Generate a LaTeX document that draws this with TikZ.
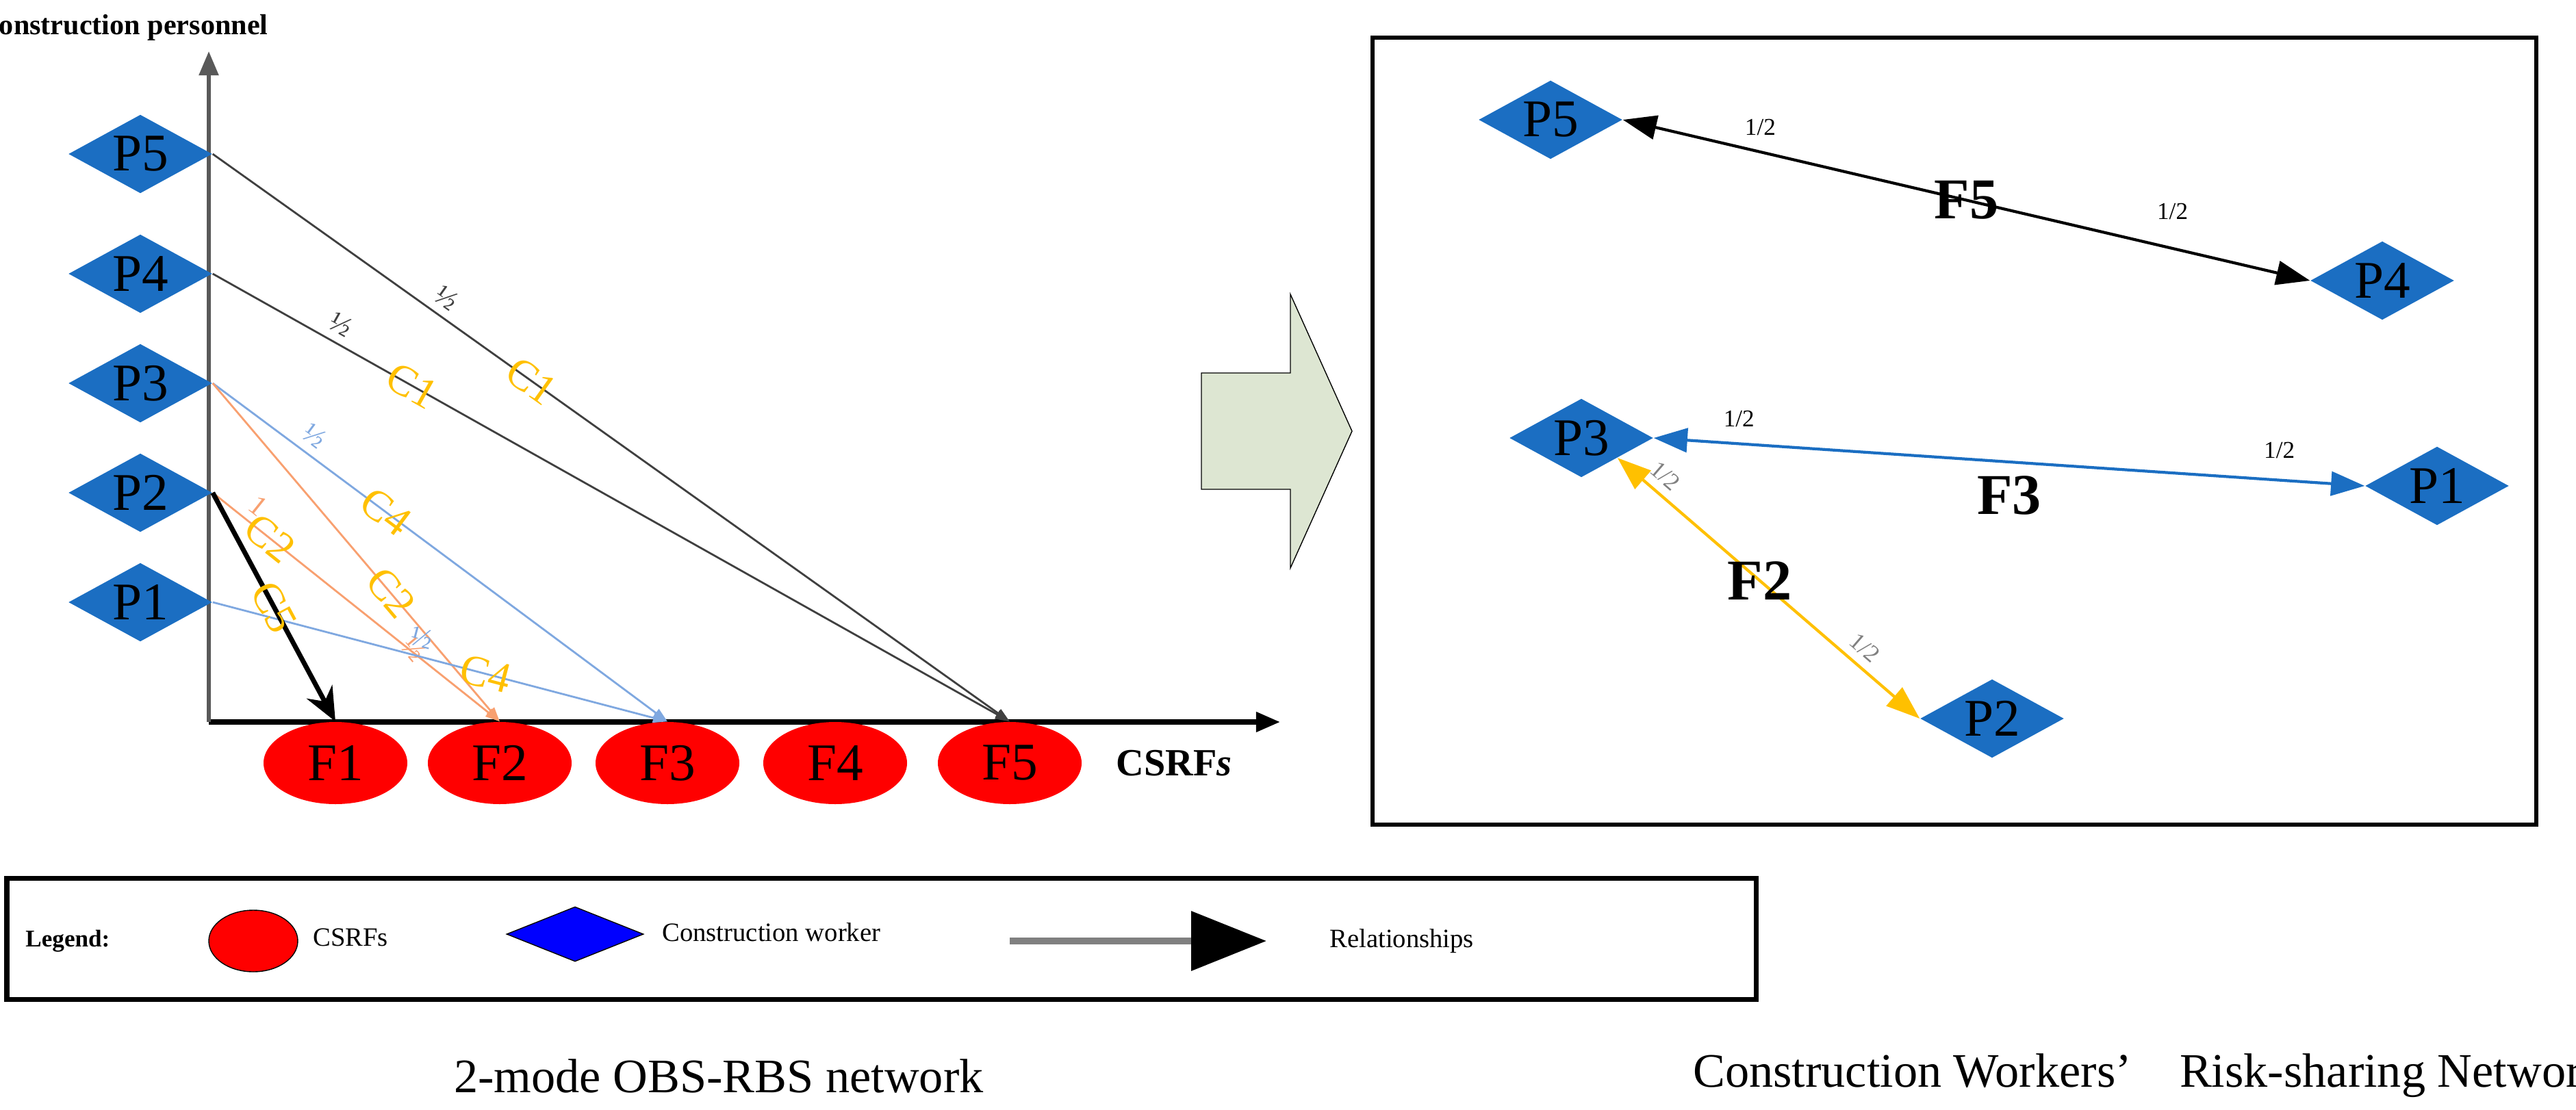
\documentclass[tikz,border=0pt]{standalone}
\usepackage{fontspec}
\setmainfont{Liberation Serif}
\usetikzlibrary{shapes.geometric,arrows.meta}
\definecolor{pblue}{HTML}{1B6EC2}
\definecolor{lblue}{HTML}{7FA8E0}
\definecolor{lorange}{HTML}{F8A070}
\definecolor{cyel}{HTML}{FFC000}
\definecolor{agreen}{HTML}{DDE6D2}
\begin{document}
\begin{tikzpicture}
    [x=1cm,y=-1cm,
    pers/.style = {diamond,aspect=1.8,fill=pblue,minimum width=2.1cm,minimum height=1.15cm,inner sep=0pt,font=\fontsize{22}{24}\selectfont},
    csrf/.style = {ellipse,fill=red,minimum width=2.1cm,minimum height=1.2cm,inner sep=0pt,font=\fontsize{22}{24}\selectfont},
    half/.style = {font=\fontsize{12}{12}\selectfont,sloped,above},
    clab/.style = {text=cyel,font=\fontsize{18}{18}\selectfont,sloped},
    rhalf/.style = {font=\fontsize{10}{10}\selectfont},
    flab/.style = {font=\fontsize{24}{24}\selectfont\bfseries},
    legtxt/.style = {font=\fontsize{11}{11}\selectfont,anchor=west},
    captxt/.style = {font=\fontsize{20}{22}\selectfont}
    ]
\useasboundingbox (0,0) rectangle (37.63,16.22);
% left: 2-mode network
\coordinate (o) at (3.05,10.55);
\coordinate (ytop) at (3.05,0.75);
\coordinate (xend) at (18.7,10.55);
\draw[line width=2pt,-{Triangle[length=10pt,width=8pt]}] (o) -- (xend);
\draw[gray!70!black,line width=1.5pt,-{Triangle[length=10pt,width=8pt]}] (o) -- (ytop);
\node[font=\fontsize{12}{12}\selectfont\bfseries] (ylab) at (1.8,0.4) {Construction personnel};
\node[font=\fontsize{16}{16}\selectfont\bfseries] (xlab) at (17.15,11.15) {CSRF\textit{s}};

\node[pers] (p5) at (2.05,2.25) {P5};
\node[pers] (p4) at (2.05,4.0) {P4};
\node[pers] (p3) at (2.05,5.6) {P3};
\node[pers] (p2) at (2.05,7.2) {P2};
\node[pers] (p1) at (2.05,8.8) {P1};

\node[csrf] (f1) at (4.9,11.15) {F1};
\node[csrf] (f2) at (7.3,11.15) {F2};
\node[csrf] (f3) at (9.75,11.15) {F3};
\node[csrf] (f4) at (12.2,11.15) {F4};
\node[csrf] (f5) at (14.75,11.15) {F5};

\draw[black!75,line width=0.8pt,-{Triangle[length=6pt,width=4pt]}] (p5.east) -- node[pos=0.28,half]{½} node[pos=0.4,clab]{C1} (f5.north);
\draw[black!75,line width=0.8pt,-{Triangle[length=6pt,width=4pt]}] (p4.east) -- node[pos=0.15,half]{½} node[pos=0.25,clab]{C1} (f5.north);
\draw[lblue,line width=0.8pt,-{Triangle[length=6pt,width=4pt]}] (p3.east) -- node[pos=0.2,half]{½} node[pos=0.38,clab]{C4} (f3.north);
\draw[lorange,line width=0.8pt,-{Triangle[length=6pt,width=4pt]}] (p3.east) -- node[pos=0.75,half,below]{½} node[pos=0.62,clab]{C2} (f2.north);
\draw[lorange,line width=0.8pt,-{Triangle[length=6pt,width=4pt]}] (p2.east) -- node[pos=0.12,half]{1} node[pos=0.2,clab]{C2} (f2.north);
\draw[lblue,line width=0.8pt,-{Triangle[length=6pt,width=4pt]}] (p1.east) -- node[pos=0.45,half]{½} node[pos=0.6,clab]{C4} (f3.north);
\draw[black,line width=2pt,-{Stealth[length=14pt,width=12pt]}] (p2.east) -- node[pos=0.5,clab]{C5} (f1.north);

% block arrow
\draw[fill=agreen] (17.55,5.45) -- (18.85,5.45) -- (18.85,4.3) -- (19.75,6.3) -- (18.85,8.3) -- (18.85,7.15) -- (17.55,7.15) -- cycle;

% right: risk-sharing network
\draw[line width=1.5pt] (20.05,0.55) rectangle (37.05,12.05);
\node[pers] (q5) at (22.65,1.75) {P5};
\node[pers] (q4) at (34.8,4.1) {P4};
\node[pers] (q3) at (23.1,6.4) {P3};
\node[pers] (q1) at (35.6,7.1) {P1};
\node[pers] (q2) at (29.1,10.5) {P2};
\draw[black,line width=1.2pt,{Triangle[length=14pt,width=10pt]}-{Triangle[length=14pt,width=10pt]}] (q5.east) -- node[flab,pos=0.5]{F5} node[rhalf,pos=0.2,above=3pt]{1/2} node[rhalf,pos=0.8,above=8pt]{1/2} (q4.west);
\draw[pblue,line width=1.2pt,{Triangle[length=14pt,width=10pt]}-{Triangle[length=14pt,width=10pt]}] (q3.east) -- node[flab,pos=0.5,below=2pt,text=black]{F3} node[rhalf,pos=0.12,above=3pt,text=black]{1/2} node[rhalf,pos=0.88,above=5pt,text=black]{1/2} (q1.west);
\draw[cyel,line width=1.2pt,{Triangle[length=14pt,width=10pt]}-{Triangle[length=14pt,width=10pt]}] (q3.south east) -- node[flab,pos=0.47,text=black]{F2} node[rhalf,pos=0.12,sloped,above,text=gray]{1/2} node[rhalf,pos=0.78,sloped,above,text=gray]{1/2} (q2.west);

% legend
\draw[line width=2pt] (0.1,12.83) rectangle (25.65,14.6);
\node[legtxt,font=\fontsize{10}{10}\selectfont\bfseries] (leg) at (0.25,13.75) {Legend:};
\node[ellipse,draw=black,fill=red,minimum width=1.3cm,minimum height=0.9cm] (legf) at (3.7,13.75) {};
\node[legtxt] (legft) at (4.45,13.7) {CSRFs};
\node[diamond,aspect=2.5,draw=black,fill=blue,minimum width=2cm,minimum height=0.8cm,inner sep=0pt] (legp) at (8.4,13.65) {};
\node[legtxt] (legpt) at (9.55,13.62) {Construction worker};
\coordinate (lega) at (14.75,13.75);
\coordinate (legb) at (18.5,13.75);
\draw[gray,line width=3pt,-{Triangle[length=1.1cm,width=0.85cm,color=black]}] (lega) -- (legb);
\node[legtxt] (legrt) at (19.3,13.75) {Relationships};

% captions
\node[captxt] (cap1) at (10.5,15.72) {2-mode OBS-RBS network};
\node[captxt] (cap2) at (31.4,15.72) {Construction Workers’\quad Risk-sharing Network};
\end{tikzpicture}
\end{document}
